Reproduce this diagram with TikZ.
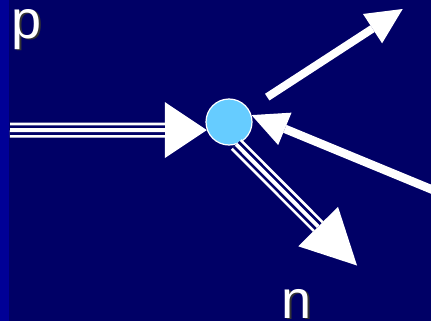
\documentclass[tikz,border=0pt]{standalone}
\usepackage{fontspec}
\setmainfont{Liberation Sans}
\usetikzlibrary{arrows.meta}
\definecolor{slidenavy}{RGB}{0,0,102}
\definecolor{slideedge}{RGB}{0,0,150}
\definecolor{vertexblue}{RGB}{102,204,255}

\begin{document}
\begin{tikzpicture}[
    x=1pt, y=-1pt,
    ray/.style={draw=white, line width=8pt},
    beam/.style={draw=white, line width=15pt},
    beamgap/.style={draw=slidenavy, line width=9.5pt},
    beamcore/.style={draw=white, line width=4pt},
    lbl/.style={font=\fontsize{54}{60}\selectfont, text=white, inner sep=0pt, anchor=base west},
    lblshadow/.style={lbl, text=black!80}
]
\useasboundingbox (0,0) rectangle (431,321);
\fill[slidenavy] (0,0) rectangle (431,321);
\fill[slideedge] (0,0) rectangle (9,321);
\clip (0,0) rectangle (431,321);

% vertex and free ends
\node[circle, fill=vertexblue, draw=white, line width=1.2pt, minimum size=46pt, inner sep=0pt] (ver) at (229,122) {};
\coordinate (pin) at (10,130);
\coordinate (nout) at (357,265.5);
\coordinate (eout) at (402.7,9);
\coordinate (rin) at (450,197);

% incoming proton
\draw[beam, -{Triangle[length=42pt, width=56pt, line width=0pt]}] (pin) -- (ver.200);
\draw[beamgap, shorten >=42pt] (pin) -- (ver.200);
\draw[beamcore, shorten >=42pt] (pin) -- (ver.200);

% outgoing neutron
\draw[beam, -{Triangle[length=55pt, width=56pt, line width=0pt]}] (ver.-72) -- (nout);
\draw[beamgap, shorten >=55pt] (ver.-72) -- (nout);
\draw[beamcore, shorten >=55pt] (ver.-72) -- (nout);

% single lines
\draw[ray, shorten <=22pt, -{Triangle[length=36pt, width=35pt, line width=0pt]}] (ver) -- (eout);
\draw[ray, line width=8.5pt, -{Triangle[length=36pt, width=35pt, line width=0pt]}] (rin) -- (ver.17);

% labels
\node[lblshadow] (pshade) at (13,40) {p};
\node[lbl] (plabel) at (11.5,38.5) {p};
\node[lblshadow] (nshade) at (283,319.5) {n};
\node[lbl] (nlabel) at (281.5,318) {n};
\end{tikzpicture}
\end{document}
